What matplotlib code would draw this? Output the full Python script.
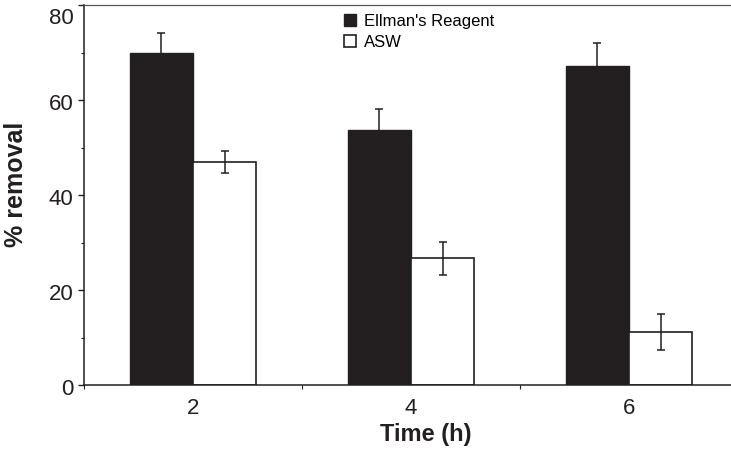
import matplotlib
matplotlib.use("Agg")
import matplotlib.pyplot as plt
from matplotlib.ticker import FixedLocator
from matplotlib.transforms import ScaledTranslation
import numpy as np

plt.rcParams['font.family'] = ['Liberation Sans', 'DejaVu Sans']

# Data
times = ["2", "4", "6"]
ellman = [70.0, 53.7, 67.2]
ellman_err = [4.2, 4.5, 4.7]
asw = [47.0, 26.7, 11.1]
asw_err = [2.3, 3.45, 3.75]

x = np.arange(1, len(times) + 1)
w = 0.29
dark = '#231f20'

fig = plt.figure(figsize=(7.31, 4.54), dpi=100)
ax = fig.add_axes([84 / 731, 1 - 385 / 454, 1 - 84 / 731, 380 / 454])

ax.bar(x - w / 2, ellman, w, color=dark, edgecolor=dark, linewidth=1.0,
       label="Ellman's Reagent", zorder=2)
ax.bar(x + w / 2, asw, w, color='white', edgecolor=dark, linewidth=1.2,
       label="ASW", zorder=2)
ax.errorbar(x - w / 2, ellman, yerr=ellman_err, fmt='none', ecolor=dark,
            elinewidth=1.1, capsize=3, capthick=1.1, zorder=3)
ax.errorbar(x + w / 2, asw, yerr=asw_err, fmt='none', ecolor=dark,
            elinewidth=1.1, capsize=3, capthick=1.1, zorder=3)

# Axes details
ax.set_xlim(0.5, 0.5 + (731 - 84) / 218)
ax.set_ylim(0, 80)
ax.set_yticks([0, 20, 40, 60, 80])
ax.yaxis.set_minor_locator(FixedLocator([10, 30, 50, 70]))
ax.set_xticks(x)
ax.set_xticklabels(times)
ax.xaxis.set_minor_locator(FixedLocator([0.5, 1.5, 2.5, 3.5]))

ax.tick_params(axis='y', which='major', direction='out', length=4, width=1,
               labelsize=16, pad=3.5, colors=dark)
ax.tick_params(axis='y', which='minor', direction='out', length=2.5, width=0.8,
               colors=dark)
ax.tick_params(axis='x', which='major', length=0, labelsize=16, pad=9,
               colors=dark)
ax.tick_params(axis='x', which='minor', direction='out', length=3, width=0.8,
               colors=dark)

# y tick labels sit a little below their ticks, the top one more so
for lab, val in zip(ax.get_yticklabels(), [0, 20, 40, 60, 80]):
    dy = 11 if val == 80 else 2
    lab.set_transform(lab.get_transform() +
                      ScaledTranslation(0, -dy / 100, fig.dpi_scale_trans))

ax.spines['right'].set_visible(False)
ax.spines['top'].set_color('#555555')
ax.spines['top'].set_linewidth(0.9)
ax.spines['left'].set_color(dark)
ax.spines['bottom'].set_color(dark)
ax.spines['left'].set_linewidth(1.1)
ax.spines['bottom'].set_linewidth(1.1)

fig.text(16 / 731, 1 - 184 / 454, "% removal", rotation=90, ha='center',
         va='center', fontsize=18, fontweight='bold', color=dark)
fig.text(426 / 731, 1 - 435 / 454, "Time (h)", ha='center', va='center',
         fontsize=17, fontweight='bold', color=dark)

# Legend
ax.legend(loc='upper left', bbox_to_anchor=(344 / 731, 1 - 14 / 454),
          bbox_transform=fig.transFigure, frameon=False, fontsize=12,
          handlelength=0.7, handleheight=0.7, handletextpad=0.5,
          labelspacing=0.35, borderpad=0, borderaxespad=0)

fig.savefig("out.png", dpi=100)
